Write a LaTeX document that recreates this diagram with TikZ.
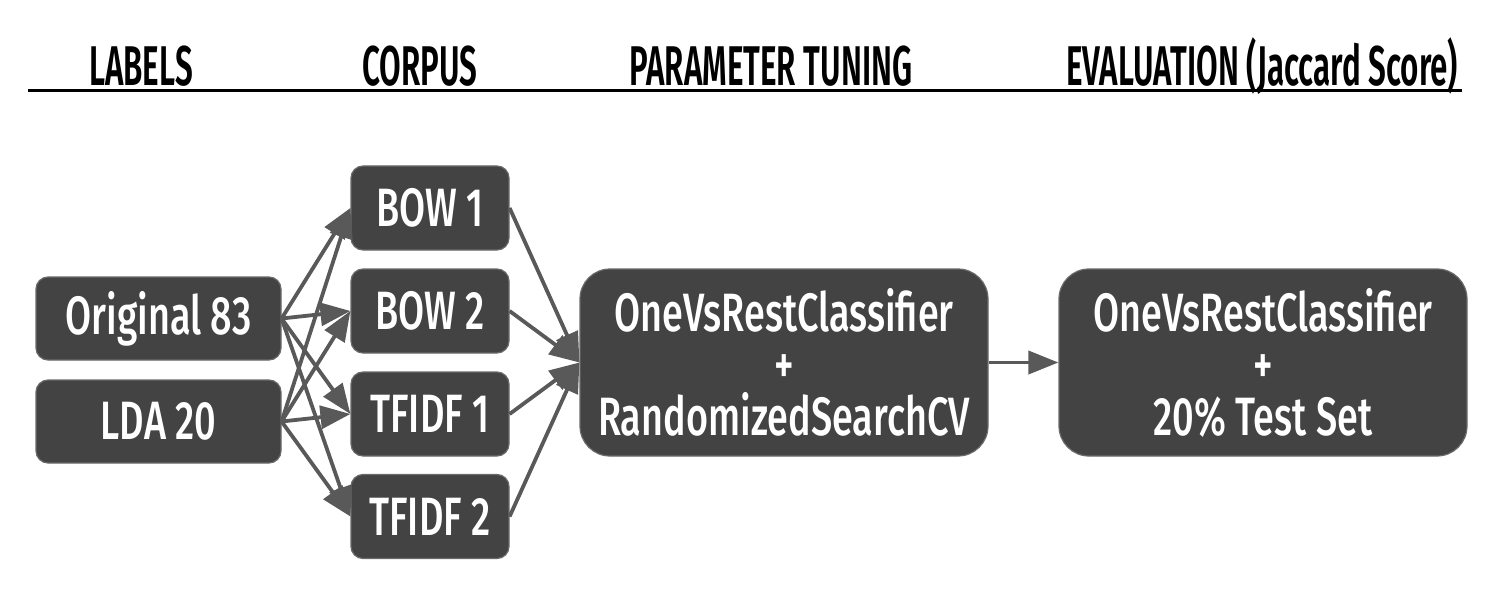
\documentclass[tikz,border=0pt]{standalone}
\usepackage{fontspec}
\setmainfont[FakeStretch=0.70]{Fira Sans Medium}
\newfontfamily\headfont[FakeStretch=0.56]{Fira Sans SemiBold}
\usetikzlibrary{arrows.meta}
\definecolor{boxfill}{HTML}{434343}
\definecolor{boxline}{HTML}{6A6A6A}
\definecolor{arrowc}{HTML}{595959}
\tikzset{
  smallbox/.style={draw=boxline, line width=0.6pt, fill=boxfill, rounded corners=6pt,
    text=white, inner sep=0pt, font=\fontsize{27}{26}\selectfont},
  bigbox/.style={draw=boxline, line width=0.6pt, fill=boxfill, rounded corners=15pt,
    text=white, inner sep=0pt, align=center, minimum width=204pt, minimum height=93.5pt,
    font=\fontsize{27}{26}\selectfont},
  headtxt/.style={font=\headfont\fontsize{28}{28}\selectfont, inner sep=0pt, anchor=base},
  conn/.style={draw=arrowc, line width=1.9pt, -{Triangle[length=15pt,width=11.5pt]}},
}
\begin{document}
\begin{tikzpicture}[x=0.5pt,y=-0.5pt]
\useasboundingbox (0,0) rectangle (1506,610);
% headers
\node[headtxt] (hlab) at (141,86) {LABELS};
\node[headtxt] (hcor) at (420,86) {CORPUS};
\node[headtxt] (hpar) at (771,86) {PARAMETER TUNING};
\node[headtxt] (heva) at (1262,86) {EVALUATION (Jaccard Score)};
\coordinate (ulA) at (28,91);
\coordinate (ulB) at (1462,91);
\draw[line width=1.5pt, black] (ulA) -- (ulB);
% label boxes
\node[smallbox, minimum width=122.5pt, minimum height=41.5pt] (orig) at (158.5,318.5) {Original 83};
\node[smallbox, minimum width=122.5pt, minimum height=41.5pt] (lda) at (158.5,421.5) {LDA 20};
% corpus boxes
\node[smallbox, minimum width=79pt, minimum height=42pt] (bow1) at (430,208) {BOW 1};
\node[smallbox, minimum width=79pt, minimum height=42pt] (bow2) at (430,311) {BOW 2};
\node[smallbox, minimum width=79pt, minimum height=42pt] (tf1) at (430,414) {TFIDF 1};
\node[smallbox, minimum width=79pt, minimum height=42pt] (tf2) at (430,516.5) {TFIDF 2};
% big boxes
\node[bigbox] (param) at (784,362.5) {OneVsRestClassifier\\+\\RandomizedSearchCV};
\node[bigbox] (eval) at (1263,362.5) {OneVsRestClassifier\\+\\20\% Test Set};
% connectors
\foreach \s in {orig,lda}
  \foreach \t in {bow1,bow2,tf1,tf2}
    \draw[conn] (\s.east) -- (\t.west);
\foreach \s in {bow1,bow2,tf1,tf2}
  \draw[conn] (\s.east) -- (param.west);
\draw[conn] (param.east) -- (eval.west);
\end{tikzpicture}
\end{document}
